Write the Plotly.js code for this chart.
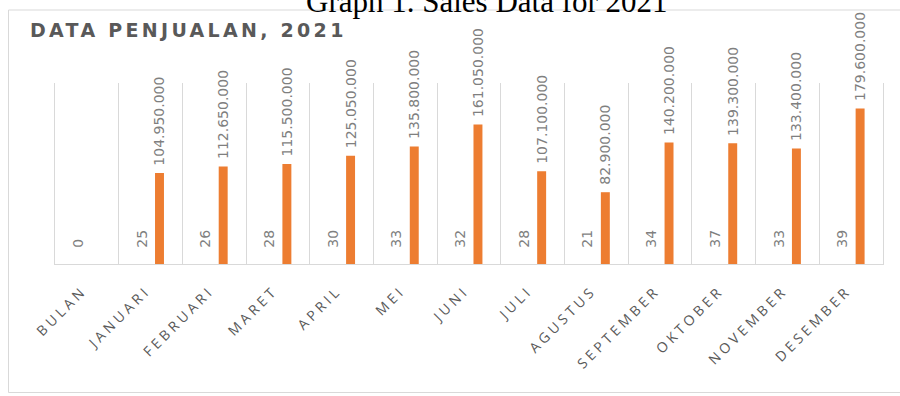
<!DOCTYPE html>
<html>
<head>
<meta charset="utf-8">
<script src="https://cdn.plot.ly/plotly-3.0.1.min.js"></script>
<style>
  html, body { margin: 0; padding: 0; background: #ffffff; }
  #chart { width: 900px; height: 396px; }
  g.xtick text { letter-spacing: 3.6px; }
  text.gtitle { letter-spacing: 3.3px; }
</style>
</head>
<body>
<div id="chart"></div>
<script>
// ---- data ----
const months = ['BULAN', 'JANUARI', 'FEBRUARI', 'MARET', 'APRIL', 'MEI', 'JUNI',
                'JULI', 'AGUSTUS', 'SEPTEMBER', 'OKTOBER', 'NOVEMBER', 'DESEMBER'];
const unitsSold = [0, 25, 26, 28, 30, 33, 32, 28, 21, 34, 37, 33, 39];
const salesValues = [null, 104950000, 112650000, 115500000, 125050000, 135800000, 161050000,
                     107100000, 82900000, 140200000, 139300000, 133400000, 179600000];
const chartTitle = 'DATA PENJUALAN, 2021';
const captionText = 'Graph 1. Sales Data for 2021';

// ---- helpers ----
const NB = '\u00a0';
function fmtId(v) {
  return String(v).replace(/\B(?=(\d{3})+(?!\d))/g, '.');
}
const unitsText = unitsSold.map(v => NB + NB + NB + fmtId(v));
const salesText = salesValues.map(v => v == null ? '' : NB + fmtId(v));

const labelFont = { family: 'DejaVu Sans', size: 14, color: '#7f7f7f' };

const traces = [
  {
    type: 'bar', x: months, y: unitsSold, name: 'Jumlah',
    marker: { color: '#4472C4' },
    text: unitsText, textposition: 'outside', textangle: -90,
    constraintext: 'none', cliponaxis: false,
    textfont: labelFont, outsidetextfont: labelFont,
    hoverinfo: 'skip'
  },
  {
    type: 'bar', x: months, y: salesValues, name: 'Penjualan',
    marker: { color: '#ED7D31' },
    text: salesText, textposition: 'outside', textangle: -90,
    constraintext: 'none', cliponaxis: false,
    textfont: labelFont, outsidetextfont: labelFont,
    hoverinfo: 'skip'
  }
];

// plot area in pixels: x 55..883, y 83..264
const L = 55, R = 17, T = 83, B = 132, W = 900, H = 396;
const pw = W - L - R, ph = H - T - B;
const px2x = p => (p - L) / pw;
const py2y = p => (H - B - p) / ph;

const layout = {
  width: W, height: H,
  margin: { l: L, r: R, t: T, b: B, pad: 0 },
  paper_bgcolor: '#ffffff', plot_bgcolor: '#ffffff',
  showlegend: false,
  barmode: 'group', bargap: 0.4375, bargroupgap: 0.5,
  title: {
    text: chartTitle,
    font: { family: 'DejaVu Sans', size: 19, color: '#595959', weight: 'bold' },
    xref: 'container', yref: 'container',
    x: 30 / W, xanchor: 'left',
    y: 1 - 30 / H, yanchor: 'middle'
  },
  xaxis: {
    type: 'category',
    tickson: 'boundaries',
    showgrid: true, gridcolor: '#d9d9d9', gridwidth: 1,
    showline: true, linecolor: '#d9d9d9', linewidth: 1,
    ticks: '', tickangle: -45,
    ticklabelstandoff: 12,
    ticklabelshift: -4,
    tickfont: { family: 'Open Sans', size: 14, color: '#595959' },
    automargin: false, fixedrange: true
  },
  yaxis: {
    range: [0, 209000000], fixedrange: true, automargin: false,
    showticklabels: false, ticks: '', showgrid: false, zeroline: false,
    showline: true, mirror: true, linecolor: '#d9d9d9', linewidth: 1
  },
  shapes: [
    {
      type: 'rect', xref: 'paper', yref: 'paper', layer: 'below',
      x0: px2x(8.5), x1: px2x(906), y0: py2y(392.5), y1: py2y(10),
      line: { color: '#d9d9d9', width: 1 }, fillcolor: 'rgba(0,0,0,0)'
    }
  ],
  annotations: [
    {
      text: captionText, showarrow: false,
      xref: 'paper', yref: 'paper',
      x: px2x(487), xanchor: 'center',
      y: py2y(21), yanchor: 'bottom',
      font: { family: 'Liberation Serif', size: 31, color: '#000000' }
    }
  ]
};

Plotly.newPlot('chart', traces, layout, { displayModeBar: false, staticPlot: true });
</script>
</body>
</html>
